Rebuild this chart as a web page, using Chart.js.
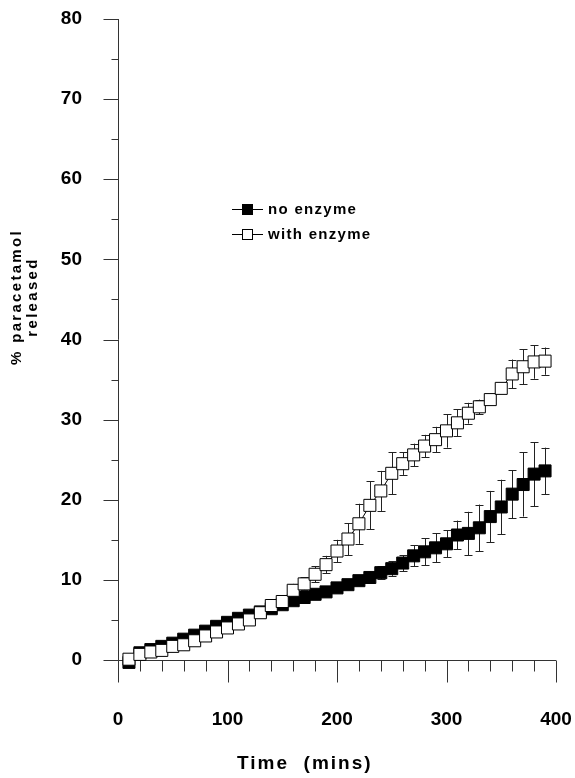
<!DOCTYPE html>
<html>
<head>
<meta charset="utf-8">
<script src="https://cdn.jsdelivr.net/npm/chart.js@4.4.1/dist/chart.umd.min.js"></script>
<style>
html, body { margin: 0; padding: 0; background: #fff; }
#wrap { width: 575px; height: 778px; }
</style>
</head>
<body>
<div id="wrap"><canvas id="releaseChart" width="575" height="778"></canvas></div>
<script>
const FONT = '"Liberation Sans", Arial, sans-serif';

// sampling times (mins)
const times = [10,20,30,40,50,60,70,80,90,100,110,120,130,140,150,160,170,180,190,200,
               210,220,230,240,250,260,270,280,290,300,310,320,330,340,350,360,370,380,390];
// % paracetamol released
const noEnzyme = [-0.3,0.9,1.3,1.7,2.1,2.6,3.1,3.6,4.2,4.7,5.2,5.6,6.0,6.4,6.9,7.4,7.8,8.2,8.5,9.0,
                  9.4,9.9,10.3,10.9,11.4,12.1,13.0,13.5,14.0,14.5,15.6,15.8,16.5,17.9,19.1,20.7,21.9,23.2,23.6];
const noEnzymeErr = [0.3,0.3,0.3,0.3,0.3,0.3,0.3,0.3,0.3,0.3,0.3,0.3,0.3,0.3,0.3,0.3,0.3,0.3,0.3,0.5,
                     0.6,0.6,0.7,0.8,0.9,1.0,1.3,1.7,1.8,1.7,1.8,2.7,2.9,3.2,3.4,3.0,4.0,4.0,2.9];
const withEnzyme = [0.1,0.7,1.0,1.2,1.7,1.9,2.4,3.0,3.5,4.0,4.5,5.0,5.9,6.8,7.3,8.7,9.5,10.7,11.9,13.6,
                    15.1,17.0,19.3,21.1,23.3,24.5,25.6,26.7,27.5,28.6,29.6,30.8,31.6,32.5,33.9,35.7,36.6,37.2,37.3];
const withEnzymeErr = [0.3,0.3,0.3,0.3,0.3,0.3,0.3,0.3,0.3,0.3,0.3,0.3,0.3,0.3,0.5,0.8,0.8,1.0,1.1,1.4,
                       2.0,2.5,3.0,2.5,2.6,1.4,1.4,1.4,1.6,2.1,1.7,1.3,0.9,0.5,0.5,1.8,2.2,2.1,1.7];

const xMin = 0, xMax = 400, xMajor = 100, xMinor = 20;
const yMin = 0, yMax = 80, yMajor = 10, yMinor = 5;

const seriesLabels = ['no enzyme', 'with enzyme'];

function toPoints(vals) {
    return times.map((t, i) => ({ x: t, y: vals[i] }));
}

function drawErrorBars(ctx, xs, ys, vals, errs) {
    vals.forEach((v, i) => {
        const px = Math.round(xs.getPixelForValue(times[i])) + 0.5;
        const top = ys.getPixelForValue(v + errs[i]);
        const bot = ys.getPixelForValue(v - errs[i]);
        ctx.beginPath();
        ctx.moveTo(px, top); ctx.lineTo(px, bot);
        ctx.moveTo(px - 4, Math.round(top) + 0.5); ctx.lineTo(px + 4, Math.round(top) + 0.5);
        ctx.moveTo(px - 4, Math.round(bot) + 0.5); ctx.lineTo(px + 4, Math.round(bot) + 0.5);
        ctx.stroke();
    });
}

// keep the tick label padding from shrinking the plot area
function fixBox(scale, size) {
    if (scale.isHorizontal()) scale.height = size; else scale.width = size;
    scale.paddingLeft = 0; scale.paddingRight = 0;
    scale.paddingTop = 0; scale.paddingBottom = 0;
}

const decorPlugin = {
    id: 'decor',
    beforeDatasetsDraw(chart) {
        const { ctx, chartArea: a, scales: { x, y } } = chart;
        ctx.save();
        ctx.strokeStyle = '#333';
        ctx.lineWidth = 1;
        const x0 = Math.round(a.left) + 0.5;
        const y0 = Math.round(y.getPixelForValue(0)) + 0.5;
        ctx.beginPath();
        ctx.moveTo(x0, a.top); ctx.lineTo(x0, y0);
        ctx.moveTo(x0, y0); ctx.lineTo(a.right, y0);
        // x ticks
        for (let v = xMin; v <= xMax; v += xMinor) {
            const px = Math.round(x.getPixelForValue(v)) + 0.5;
            const len = v % xMajor === 0 ? 22 : 11;
            ctx.moveTo(px, y0); ctx.lineTo(px, y0 + len);
        }
        // y ticks
        for (let v = yMin; v <= yMax; v += yMinor) {
            const py = Math.round(y.getPixelForValue(v)) + 0.5;
            const len = v % yMajor === 0 ? 15 : 7;
            ctx.moveTo(x0, py); ctx.lineTo(x0 - len, py);
        }
        ctx.stroke();
        ctx.strokeStyle = '#222';
        drawErrorBars(ctx, x, y, noEnzyme, noEnzymeErr);
        drawErrorBars(ctx, x, y, withEnzyme, withEnzymeErr);
        ctx.restore();
    },
    afterDraw(chart) {
        const ctx = chart.ctx;
        ctx.save();
        ctx.fillStyle = '#000';
        ctx.textBaseline = 'middle';
        // x title
        ctx.font = 'bold 19px ' + FONT;
        ctx.letterSpacing = '2px';
        ctx.textAlign = 'left';
        ctx.fillText('Time  (mins)', 237, 764);
        // y title
        ctx.font = 'bold 15px ' + FONT;
        ctx.letterSpacing = '2.3px';
        ctx.textAlign = 'center';
        ctx.save();
        ctx.translate(17, 297);
        ctx.rotate(-Math.PI / 2);
        ctx.fillText('% paracetamol', 0, 0);
        ctx.fillText('released', 0, 16);
        ctx.restore();
        // legend
        ctx.textAlign = 'left';
        ctx.letterSpacing = '1.3px';
        ctx.lineWidth = 1;
        ctx.strokeStyle = '#000';
        [209, 234].forEach((ly, i) => {
            const yy = ly + 0.5;
            ctx.beginPath();
            ctx.moveTo(232, yy); ctx.lineTo(263, yy);
            ctx.stroke();
            ctx.fillStyle = i === 0 ? '#000' : '#fff';
            ctx.fillRect(242, ly - 5, 11, 11);
            ctx.strokeRect(242.5, ly - 4.5, 10, 10);
            ctx.fillStyle = '#000';
            ctx.fillText(seriesLabels[i], 268, ly + 1);
        });
        ctx.restore();
    }
};

Chart.defaults.color = '#000';

new Chart(document.getElementById('releaseChart'), {
    type: 'scatter',
    data: {
        datasets: [
            {
                label: seriesLabels[0],
                data: toPoints(noEnzyme),
                showLine: true,
                borderColor: '#000',
                borderWidth: 1,
                pointStyle: 'rect',
                pointRadius: 8.5,
                pointBackgroundColor: '#000',
                pointBorderColor: '#000',
                pointBorderWidth: 1,
                clip: false,
                order: 2
            },
            {
                label: seriesLabels[1],
                data: toPoints(withEnzyme),
                showLine: true,
                borderColor: '#000',
                borderWidth: 1,
                pointStyle: 'rect',
                pointRadius: 8.5,
                pointBackgroundColor: '#fff',
                pointBorderColor: '#000',
                pointBorderWidth: 1,
                clip: false,
                order: 1
            }
        ]
    },
    options: {
        responsive: false,
        animation: false,
        layout: { padding: { left: 0, top: 19, right: 19, bottom: 0 } },
        plugins: { legend: { display: false }, tooltip: { enabled: false } },
        scales: {
            x: {
                type: 'linear', min: xMin, max: xMax,
                grid: { display: false }, border: { display: false },
                ticks: { stepSize: xMajor, padding: 40, font: { family: FONT, size: 19, weight: 'bold' } },
                afterFit(scale) { fixBox(scale, 118); }
            },
            y: {
                type: 'linear', min: yMin, max: yMax,
                grid: { display: false }, border: { display: false },
                ticks: { stepSize: yMajor, padding: 28, font: { family: FONT, size: 19, weight: 'bold' } },
                afterFit(scale) { fixBox(scale, 118); }
            }
        }
    },
    plugins: [decorPlugin]
});
</script>
</body>
</html>
